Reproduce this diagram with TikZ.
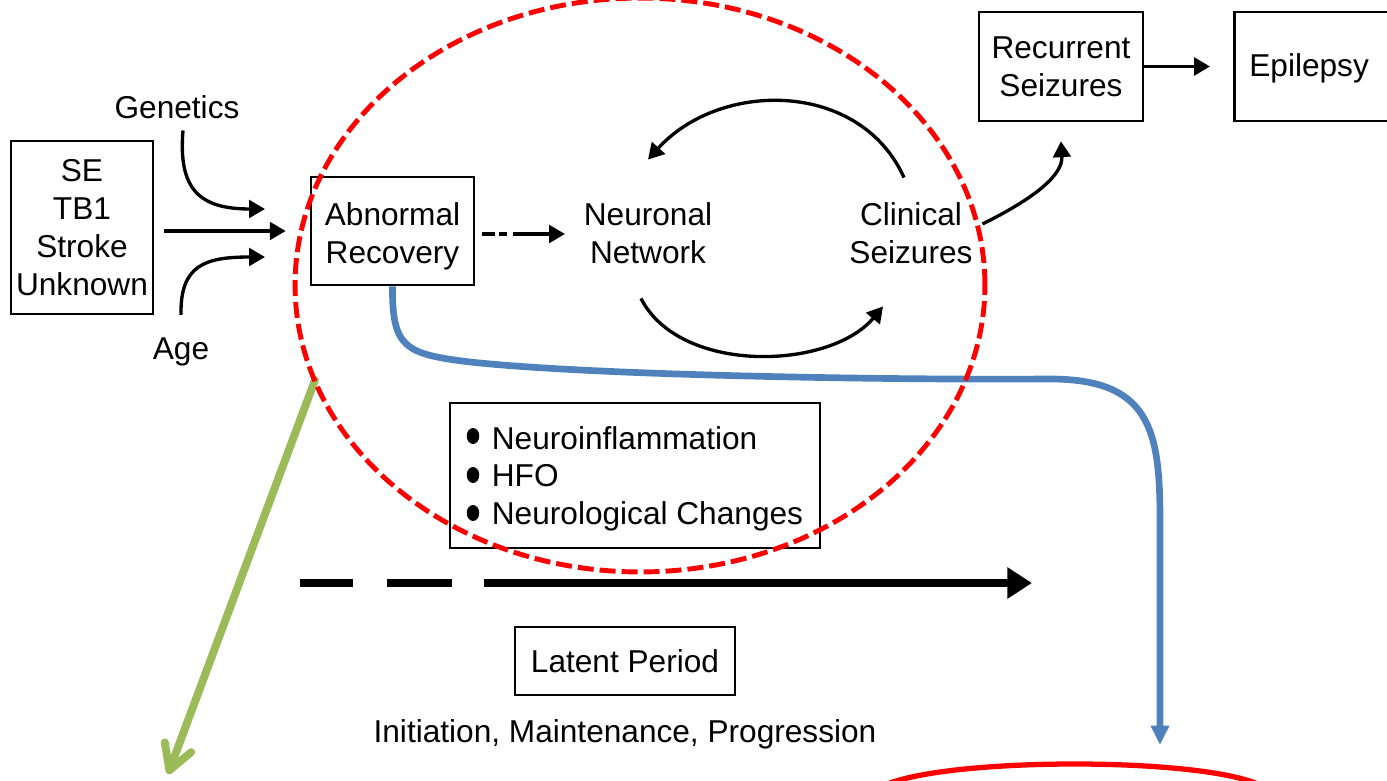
\documentclass[tikz,border=0pt]{standalone}
\usepackage{fontspec}
\setmainfont{Liberation Sans}
\usetikzlibrary{arrows.meta}

\definecolor{blueline}{RGB}{79,129,189}
\definecolor{greenline}{RGB}{155,187,89}

\begin{document}
\begin{tikzpicture}[x=0.02cm, y=-0.02cm,
  every node/.style={font=\fontsize{18}{21.6}\selectfont, align=center, inner sep=2pt},
  box/.style={draw, line width=1.5pt, inner sep=0pt},
  arr/.style={line width=1.9pt, -{Triangle[length=9pt, width=10pt]}},
  bluearr/.style={color=blueline, line width=3.8pt, -{Triangle[length=11pt, width=10pt]}},
  greenarr/.style={color=greenline, line width=4.5pt, line cap=round, -{Straight Barb[length=14pt, width=16pt, round]}}]
\clip (0,0) rectangle (1387,781);

\node[box, minimum width=2.84cm, minimum height=3.46cm] (cause) at (82,227.5) {SE\\TB1\\Stroke\\Unknown};
\node (gen) at (177,107) {Genetics};
\node (age) at (181,352) {Age};
\node[box, minimum width=3.26cm, minimum height=2.16cm, text height=36.5pt, text depth=0pt] (abn) at (392.5,231) {Abnormal\\Recovery};
\node (net) at (648,233.5) {Neuronal\\Network};
\node (clin) at (911,233.5) {Clinical\\Seizures};
\node[box, minimum width=3.28cm, minimum height=2.18cm] (rec) at (1061,66.5) {Recurrent\\Seizures};
\node[box, anchor=west, minimum height=2.18cm, text width=3.2cm, inner xsep=0.3cm, align=left, text height=15pt] (epi) at (1233,66.5) {Epilepsy};
\node[box, minimum width=7.4cm, minimum height=2.9cm, align=left, text depth=0pt] (feat) at (635,475.5)
  {\hspace*{0.5cm}Neuroinflammation\\\hspace*{0.5cm}HFO\\\hspace*{0.5cm}Neurological Changes};
\node[box, minimum width=4.4cm, minimum height=1.36cm] (lat) at (625,661) {Latent Period};
\node (stage) at (625,734) {Initiation, Maintenance, Progression};

\foreach \y in {436,475,513}
  \fill (473,\y) ellipse [x radius=0.125cm, y radius=0.16cm];

\coordinate (genin) at (265,209);
\coordinate (agein) at (265,257);
\coordinate (blueend) at (1160,745);
\coordinate (greenbeg) at (315,380);
\coordinate (greenend) at (168,774);
\coordinate (tlbeg) at (300,583);
\coordinate (tlend) at (1032,583);

\draw[arr] ([xshift=0.12cm, yshift=-0.16cm]gen.south) .. controls (178,190) and (200,209) .. (genin);
\draw[arr] ([yshift=0.38cm]age.north) .. controls (180,265) and (205,257) .. (agein);
\draw[arr, shorten <=0.2cm, shorten >=0.48cm] (cause.east |- abn.west) -- (abn.west);
\draw[arr, dash pattern=on 0.26cm off 0.08cm on 0.16cm off 0.12cm on 5cm, shorten <=0.14cm, shorten >=0.3cm] ([yshift=-0.06cm]abn.east) -- ([yshift=-0.06cm]abn.east -| net.west);
\draw[arr] ([xshift=-0.14cm, yshift=0.43cm]clin.north) .. controls (860,80) and (720,80) .. ([yshift=0.79cm]net.north);
\draw[arr] ([xshift=-0.14cm, yshift=-0.61cm]net.south) .. controls (680,375) and (830,370) .. ([xshift=-0.56cm, yshift=-0.77cm]clin.south);
\draw[arr] ([xshift=0.12cm, yshift=0.19cm]clin.east) .. controls (1035,198) and (1063,175) .. ([yshift=-0.38cm]rec.south);
\draw[arr, shorten >=0.46cm] (rec.east) -- (epi.west);

\draw[bluearr] (abn.south) .. controls (392,348) and (405,354) .. (470,362) .. controls (600,376) and (900,380) .. (1050,379) .. controls (1150,379) and (1160,430) .. (1160,520) -- (blueend);
\draw[greenarr] (greenbeg) -- (greenend);

\draw[line width=4.8pt, dash pattern=on 1.06cm off 0.68cm on 1.3cm off 0.64cm on 20cm, -{Triangle[length=14pt, width=17pt]}] (tlbeg) -- (tlend);

\draw[red, line width=2.8pt, dash pattern=on 0.32cm off 0.12cm] (640,285) ellipse [x radius=6.9cm, y radius=5.74cm];
\draw[red, line width=3pt] (885,785) .. controls (950,757) and (1200,757) .. (1260,785);
\end{tikzpicture}
\end{document}
